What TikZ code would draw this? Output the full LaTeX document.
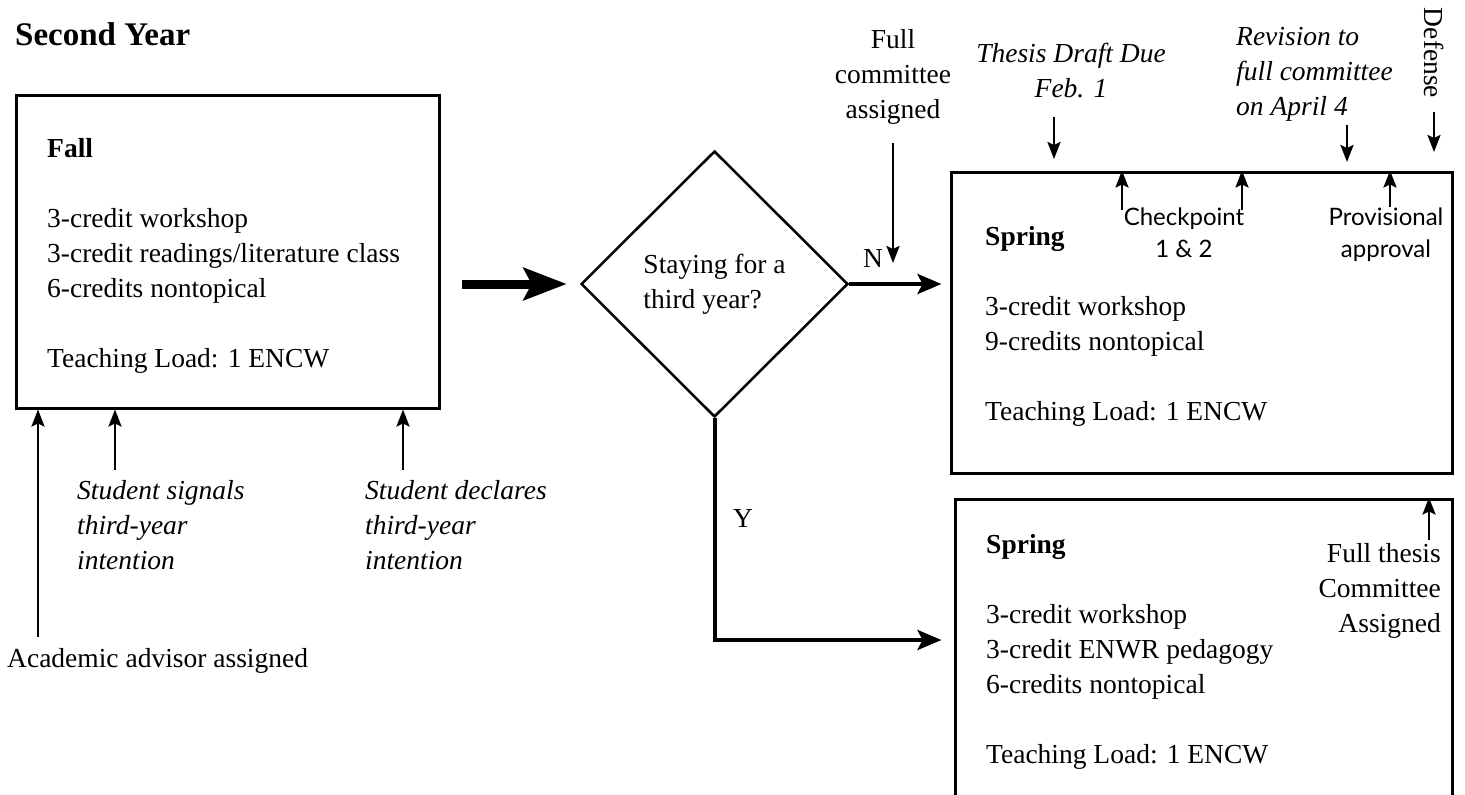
\documentclass[tikz,border=0pt]{standalone}
\usepackage{fontspec}
\setmainfont{Liberation Serif}
\newfontfamily\labelsans{Lato}
\usetikzlibrary{shapes.geometric,arrows.meta}

\begin{document}
\begin{tikzpicture}[x=1pt,y=-1pt,font=\fontsize{27.5}{35}\selectfont,
    box/.style={draw,line width=3pt,inner sep=0pt},
    txt/.style={inner sep=0pt,anchor=base west,align=left},
    note/.style={inner sep=0pt,anchor=base,align=center},
    sans/.style={font={\labelsans\fontsize{24}{32}\selectfont}},
    thinarrow/.style={line width=2.5pt,-{Stealth[length=17pt,width=13pt,inset=3pt]}},
    midarrow/.style={line width=4pt,-{Stealth[length=24pt,width=20pt,inset=5pt]}},
    bigarrow/.style={line width=9pt,-{Stealth[length=43pt,width=32pt,inset=8pt]}}]
  % page frame
  \clip (0,0) rectangle (1465,795);
  \node[txt,font=\fontsize{33}{40}\selectfont\bfseries] (title) at (15,45) {Second Year};

  % semester boxes (text nodes sit on their last baseline)
  \node[box,minimum width=423pt,minimum height=313pt] (fall) at (227.5,251.5) {};
  \node[box,minimum width=501pt,minimum height=301pt] (springN) at (1201.5,322.5) {};
  \node[box,minimum width=497pt,minimum height=340pt] (springY) at (1203.5,669) {};
  \node[txt] (falltxt) at (47,367) {\textbf{Fall}\\[35pt]3-credit workshop\\3-credit readings/literature class\\6-credits nontopical\\[35pt]Teaching Load: 1 ENCW};
  \node[txt] (springNtxt) at (985,420) {\textbf{Spring}\\[35pt]3-credit workshop\\9-credits nontopical\\[35pt]Teaching Load: 1 ENCW};
  \node[txt] (springYtxt) at (986,763) {\textbf{Spring}\\[35pt]3-credit workshop\\3-credit ENWR pedagogy\\6-credits nontopical\\[35pt]Teaching Load: 1 ENCW};

  % decision
  \node[diamond,draw,line width=2.5pt,minimum width=267pt,minimum height=266pt,inner sep=0pt,align=left] (stay) at (714.5,284) {Staying for a\\third year?};
  \coordinate (fallout) at (462,284);
  \draw[bigarrow] (fallout) -- ([xshift=-13pt]stay.west);
  \draw[midarrow,shorten >=8pt] (stay.east) -- (stay.east -| springN.west);
  \node[note] (nlab) at (873,267) {N};
  \coordinate (yturn) at (714.5,640);
  \draw[midarrow,shorten >=12pt] (stay.south) |- (yturn -| springY.west);
  \node[txt] (ylab) at (733,527) {Y};

  % milestones below fall
  \node[txt] (advisor) at (7,667) {Academic advisor assigned};
  \node[txt,font=\fontsize{27.5}{35}\selectfont\itshape] (signals) at (77,569) {Student signals\\third-year\\intention};
  \node[txt,font=\fontsize{27.5}{35}\selectfont\itshape] (declares) at (365,569) {Student declares\\third-year\\intention};
  \coordinate (a1) at (38,637);
  \coordinate (a2) at (115,470);
  \coordinate (a3) at (403,470);
  \foreach \c in {a1,a2,a3}
    \draw[thinarrow] (\c) -- (\c |- fall.south);

  % milestones above spring
  \node[note] (fullc) at (893,118) {Full\\committee\\assigned};
  \coordinate (fc) at (893,143);
  \draw[thinarrow] (fc) -- ++(0,120);
  \node[note,font=\fontsize{27.5}{35}\selectfont\itshape] (draft) at (1071,97) {Thesis Draft Due\\Feb. 1};
  \coordinate (d1) at (1054,117);
  \draw[thinarrow] (d1) -- ++(0,42);
  \node[txt,font=\fontsize{27.5}{35}\selectfont\itshape] (revision) at (1236,115) {Revision to\\full committee\\on April 4};
  \coordinate (r1) at (1347,125);
  \draw[thinarrow] (r1) -- ++(0,37);
  \node[inner sep=0pt,rotate=-90] (defense) at (1434,53) {Defense};
  \coordinate (df) at (1434,112);
  \draw[thinarrow] (df) -- ++(0,40);

  % milestones inside spring
  \node[note,sans] (checkpt) at (1184,257) {Checkpoint\\1 \& 2};
  \node[note,sans] (provis) at (1386,257) {Provisional\\approval};
  \coordinate (cp1) at (1122,210);
  \coordinate (cp2) at (1242,210);
  \coordinate (pv) at (1390,207);
  \foreach \c in {cp1,cp2,pv}
    \draw[thinarrow] (\c) -- (\c |- springN.north);
  \node[inner sep=0pt,anchor=base east,align=right] (fullthesis) at (1441,632) {Full thesis\\Committee\\Assigned};
  \coordinate (ft) at (1429,540);
  \draw[thinarrow] (ft) -- (ft |- springY.north);
\end{tikzpicture}
\end{document}
